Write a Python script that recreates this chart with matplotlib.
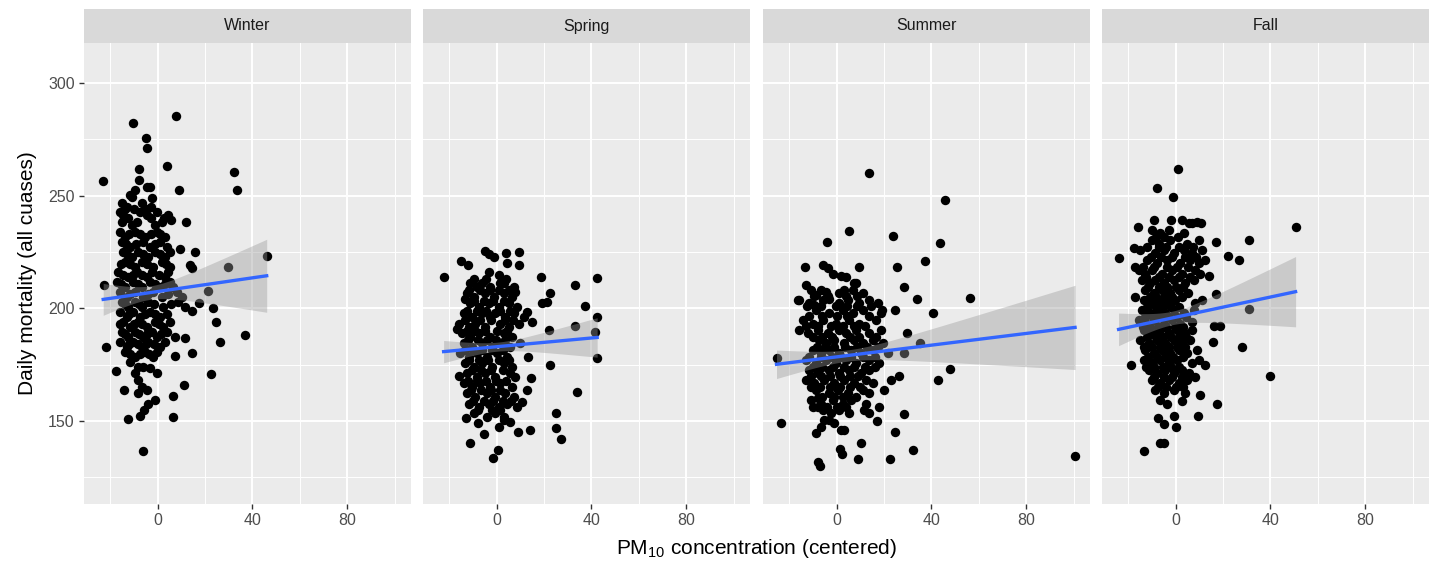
import matplotlib.pyplot as plt
import numpy as np

plt.rcParams['font.family'] = ['Liberation Sans', 'DejaVu Sans']
plt.rcParams['mathtext.fontset'] = 'custom'
plt.rcParams['mathtext.rm'] = 'Liberation Sans'
plt.rcParams['mathtext.it'] = 'Liberation Sans:italic'

seasons = ["Winter", "Spring", "Summer", "Fall"]

# ---- points (PM10 centered, daily deaths) ----
winter_x = [
    -10.3, 7.6, -5.1, -4.4, -7.7, 4.1, -23.0, 32.0, 33.4, 9.0,
    -7.7, 12.0, 5.6, 9.4, 15.8, 13.7, 14.4, 46.0, 29.6, 21.4,
    -22.5, 17.6, 23.5, 24.5, 14.4, 36.9, 26.3, -22.0, 14.6, 7.3,
    11.5, -17.6, 22.5, 11.1, -14.1, 6.3, 6.6, -12.4, -6.1,
    -7.5, -5.6, -3.9, -8.2, -4.6, -1.1, -6.8, -0.4, -3.2, -9.6, -8.2, -6.1,
    -3.2, -4.6, -9.6, -11.0,
    -11.7, -2.5,
    -15.2, -13.1, -6.8, -2.8,
    -15.9, -14.5, -7.5, -4.6, -0.4, 4.5,
    -15.2, -11.0, -8.9, -1.1, 1.7,
    -15.9, -13.8, -9.6, -5.4, -0.4, 3.1,
    -15.2, -11.7, -6.1, -3.2, 1.0, 3.8,
    -14.5, -11.0, -8.2, -3.9, -1.1, 3.1, 5.2,
    -13.8, -9.6, -6.8, -1.8, 1.7, 5.2,
    -16.6, -12.4, -8.9, -4.6, -2.5, 3.1, 4.5,
    -17.3, -13.8, -10.3, -6.8, -3.2, 1.0, 5.2, 6.6,
    -15.9, -13.1, -9.6, -6.1, -1.8, 1.7, 8.0, 10.1,
    -15.2, -12.4, -9.6, -6.8, -3.9, 2.4, 8.7, 11.5,
    -15.9, -13.1, -10.3, -7.5, -3.2, 1.0,
    -14.5, -11.7, -8.2, -4.6, -1.1, 2.4, 5.2,
    -15.2, -12.4, -9.6, -6.1, -2.5, -0.4, 3.8, 7.3,
    -15.9, -13.1, -10.3, -6.8, -3.9, 1.0, 3.1,
    -13.8, -9.6, -5.4, -1.8, -0.4,
    -11.7, -8.2,
    # inner part of the cloud
    -14.0, -10.0, -5.0,
    -12.5, -3.0, 2.5,
    -12.0, -7.5, -3.0, 1.0,
    -13.5, -9.0, -1.0,
    -13.0, -6.0, 1.0,
    -15.5, -11.5, -4.5, 3.5,
    -14.5, -10.5, -6.5, 0.5,
    -15.5, -8.5, -1.0, 3.0,
    -11.5, -4.0, 4.5,
    -14.0, -8.0, -1.5, 5.5,
    -12.0, -5.5, -1.0, 4.0,
    -16.0, -10.0, -6.5, 0.5,
    -14.0, -8.0, -4.5, 1.5,
    -12.0, -8.5, -5.0, -1.5,
    -11.5, -7.5, -3.5,
]
winter_y = [
    282.4, 285.5, 275.7, 271.3, 262.1, 263.3, 256.5, 260.4, 252.5, 252.5,
    257.2, 238.2, 239.2, 226.2, 225.1, 219.2, 217.8, 223.2, 218.2, 207.8,
    210.2, 202.2, 200.0, 194.1, 199.0, 188.0, 184.9, 183.0, 180.0, 178.8,
    187.0, 172.2, 170.9, 166.0, 164.0, 161.2, 151.9, 150.9, 136.8,
    152.4, 154.9, 157.8, 162.3, 163.8, 159.3, 165.2, 171.2, 173.4, 171.2, 168.2, 174.1,
    254.0, 253.7, 252.5, 249.6,
    250.3, 248.8,
    246.6, 245.1, 246.6, 245.1,
    242.9, 241.4, 242.9, 241.4, 242.9, 241.4,
    238.5, 237.0, 238.5, 237.0, 238.5,
    234.0, 231.8, 234.0, 231.8, 234.0, 231.8,
    229.6, 227.4, 229.6, 227.4, 229.6, 227.4,
    225.1, 222.9, 225.1, 222.9, 225.1, 222.9, 225.1,
    220.7, 218.5, 220.7, 218.5, 220.7, 218.5,
    216.3, 214.1, 216.3, 214.1, 216.3, 214.1, 216.3,
    211.8, 209.6, 211.8, 209.6, 211.8, 209.6, 211.8, 209.6,
    207.4, 205.2, 207.4, 205.2, 207.4, 205.2, 207.4, 205.2,
    203.0, 200.7, 203.0, 200.7, 203.0, 200.7, 203.0, 200.7,
    198.5, 196.3, 198.5, 196.3, 198.5, 196.3,
    194.1, 191.9, 194.1, 191.9, 194.1, 191.9, 194.1,
    189.6, 187.4, 189.6, 187.4, 189.6, 187.4, 189.6, 187.4,
    185.2, 183.0, 185.2, 183.0, 185.2, 183.0, 185.2,
    180.8, 178.6, 180.8, 178.6, 180.8,
    176.3, 174.1,
    244.0, 244.0, 244.0,
    240.0, 240.0, 240.0,
    232.9, 232.9, 232.9, 232.9,
    228.5, 228.5, 228.5,
    224.0, 224.0, 224.0,
    219.6, 219.6, 219.6, 219.6,
    215.0, 215.0, 215.0, 215.0,
    210.7, 210.7, 210.7, 210.7,
    206.3, 206.3, 206.3,
    201.8, 201.8, 201.8, 201.8,
    197.4, 197.4, 197.4, 197.4,
    193.0, 193.0, 193.0, 193.0,
    188.5, 188.5, 188.5, 188.5,
    184.0, 184.0, 184.0, 184.0,
    179.7, 179.7, 179.7,
]

spring_x = [
    -22.4, -5.1, -3.4, -1.3, 4.1, 4.4, 9.3, 9.6, -15.1, -12.1,
    18.7, 33.2, 42.4, 22.4, 21.3, 19.2, 37.2, 42.4, 33.0, 22.0,
    41.3, 42.4, 22.5, 33.7, 25.2, 25.2, 27.3, 14.2, 8.9, -11.1,
    -5.5, -1.5, 0.4, -12.8, -8.0, 14.5, 12.8, 10.7, -16.1, 13.1,
    -13.2, -16.8, 14.9, 12.8, 7.9,
    5.8, 3.0, 0.8, -3.4, 0.8, 3.0,
    -11.1, -8.3, -6.2, -2.7, 1.5, 7.2,
    -12.5, -9.7, -4.8, -1.3, 3.0, 6.5,
    -11.1, -7.6, -3.4, 0.8, 5.1, 8.6,
    -13.9, -10.4, -6.2, -2.7, -0.6, 3.7, 7.2, 11.4,
    -16.1, -11.8, -9.0, -4.8, 1.5, 5.1, 9.3,
    -14.6, -11.1, -7.6, -2.7, 3.0, 6.5,
    -13.9, -10.4, -6.2, -2.0, 1.5, 5.8, 10.0,
    -15.4, -11.8, -8.3, -4.1, 0.1, 4.4,
    -13.2, -9.7, -6.2, -2.0, 3.0, 6.5,
    -12.5, -8.3, -4.8, -0.6, 5.8, 7.9,
    -13.9, -10.4, -6.9, -2.7, 1.5, 6.5,
    -12.5, -9.0, -4.1, -0.6, 3.7, 7.2,
    -11.8, -7.6, -3.4, 0.8, 4.4, 8.6,
    -9.7, -4.1, -0.6, 3.0,
    # inner part of the cloud
    -9.7, -4.5, 4.0,
    -11.5, -7.0, -2.8, 1.0, 5.0,
    -9.5, -5.5, -1.5, 3.0,
    -12.5, -8.5, -4.5, 1.5, 5.5,
    -13.5, -7.0, -2.5, 3.5, 7.0,
    -12.5, -9.0, -5.0, 0.0, 4.5,
    -12.0, -8.0, -4.0, -0.5, 3.5,
    -13.5, -10.0, -6.0, -2.0, 2.5,
    -11.5, -7.5, -3.5, 1.0, 5.0,
    -10.5, -6.5, -2.5, 2.5,
    -12.0, -8.5, -4.5, -0.5, 4.0,
    -11.0, -6.5, -2.5, 1.5,
    -10.0, -5.5, -1.5, 2.5, 6.0,
    -8.0, -2.0, 1.5,
]
spring_y = [
    214.0, 225.6, 224.1, 222.9, 224.7, 220.3, 225.1, 219.2, 221.2, 219.2,
    214.0, 210.4, 213.3, 207.0, 203.0, 202.5, 201.0, 196.0, 192.2, 190.4,
    189.6, 178.1, 175.1, 163.0, 153.4, 147.0, 141.9, 146.0, 145.3, 140.1,
    144.2, 133.7, 137.1, 151.2, 149.3, 169.0, 163.8, 158.6, 170.0, 178.6,
    204.0, 190.7, 194.1, 198.5, 207.4,
    149.7, 150.7, 147.5, 216.3, 214.8, 211.1,
    211.1, 209.6, 211.1, 209.6, 211.1, 209.6,
    206.7, 205.2, 206.7, 205.2, 206.7, 205.2,
    202.2, 200.7, 202.2, 200.7, 202.2, 200.7,
    197.8, 196.0, 197.8, 196.0, 197.8, 196.0, 197.8, 196.0,
    193.3, 191.9, 193.3, 191.9, 193.3, 191.9, 193.3,
    188.9, 187.4, 188.9, 187.4, 188.9, 187.4,
    184.5, 183.0, 184.5, 183.0, 184.5, 183.0, 184.5,
    180.0, 178.6, 180.0, 178.6, 180.0, 178.6,
    175.6, 174.1, 175.6, 174.1, 175.6, 174.1,
    171.2, 169.7, 171.2, 169.7, 171.2, 169.7,
    166.7, 165.2, 166.7, 165.2, 166.7, 165.2,
    162.3, 160.8, 162.3, 160.8, 162.3, 160.8,
    157.8, 156.4, 157.8, 156.4, 157.8, 156.4,
    153.4, 151.9, 153.4, 151.9,
    213.0, 213.0, 213.0,
    208.0, 208.0, 208.0, 208.0, 208.0,
    203.5, 203.5, 203.5, 203.5,
    199.0, 199.0, 199.0, 199.0, 199.0,
    194.8, 194.8, 194.8, 194.8, 194.8,
    190.0, 190.0, 190.0, 190.0, 190.0,
    185.8, 185.8, 185.8, 185.8, 185.8,
    181.5, 181.5, 181.5, 181.5, 181.5,
    177.0, 177.0, 177.0, 177.0, 177.0,
    172.5, 172.5, 172.5, 172.5,
    168.0, 168.0, 168.0, 168.0, 168.0,
    163.8, 163.8, 163.8, 163.8,
    159.0, 159.0, 159.0, 159.0, 159.0,
    155.0, 155.0, 155.0,
]

summer_x = [
    13.8, 45.9, 5.4, -4.1, 23.7, 43.4, 37.3, 25.4, 9.6, -13.4,
    8.2, 28.6, 33.9, -16.2, 3.2, 40.6, 24.4, 19.2, 29.6, 35.2,
    28.6, 47.9, 42.7, 26.2, 23.0, 20.1, 18.0, 28.2, 17.0, 24.8,
    32.4, 22.3, 8.9, 10.3, 1.4, 2.1, -8.0, -7.0, -23.5, -25.4,
    100.6, 56.4,
    -5.9, -3.8, -1.7, 1.8, 3.9, -13.0, -10.8, -8.7, -4.5, -3.1,
    -9.4, -8.7, -6.6, -3.1, 1.8, 3.2, -10.1, -8.0,
    7.5,
    -6.6, 1.1, 6.8, 11.0,
    -15.8, -11.5, -5.9, 1.1, 4.6, 9.6, 13.8, 17.3,
    -8.7, -3.1, 2.5, 6.8, 11.0, 18.7,
    -14.4, -10.1, -5.9, -0.3, 5.4, 9.6, 16.6,
    -15.8, -12.3, -8.0, -3.8, 1.1, 3.9, 8.2, 13.8, 18.7,
    -7.3, -4.5, -1.0, 3.2, 7.5, 11.0, 15.2, 19.4,
    -10.1, -6.6, -3.1, 1.1, 6.1, 10.3, 15.2, 21.5,
    -13.0, -8.7, -4.5, -0.3, 3.9, 8.2, 13.8, 18.0,
    -11.5, -8.0, -3.1, 1.1, 5.4, 10.3, 13.8,
    -13.0, -9.4, -5.2, -1.0, 3.2, 7.5, 12.4, 15.2,
    -8.7, -3.1, 0.4, 4.6, 11.0, 13.8,
    -10.8, -6.6, -1.7, 2.5, 6.1, 12.4,
    -5.9, -2.4, 1.1, 5.4, 11.7, 13.8,
    -5.2, -1.0,
    # inner part of the cloud
    -9.5, -3.5, 4.0, 8.5,
    -12.5, -6.5, -0.5, 4.5, 8.5, 14.5,
    -11.5, -6.0, 0.0, 4.5, 13.5,
    -13.0, -8.0, -2.5, 2.5, 7.5, 12.0,
    -10.0, -6.0, -2.0, 5.5, 9.5, 16.5,
    -8.5, -5.0, -1.0, 3.5, 8.5, 13.0, 17.5,
    -11.5, -6.5, -2.0, 2.0, 6.0, 11.0, 16.0,
    -10.0, -6.0, -1.5, 3.0, 7.5, 12.0, 16.0,
    -11.0, -6.5, -3.0, 1.5, 5.5, 9.0,
    -11.0, -7.0, -3.0, 1.5, 5.5, 10.0,
    -6.0, -1.0, 2.5, 8.0,
    -8.0, -4.0, 0.0, 4.0,
]
summer_y = [
    260.2, 248.1, 234.3, 229.3, 232.1, 229.1, 221.2, 218.2, 218.2, 218.2,
    211.1, 209.3, 204.1, 203.7, 208.1, 198.1, 199.3, 199.3, 189.2, 184.5,
    180.0, 172.9, 168.2, 170.0, 168.2, 164.0, 156.4, 153.0, 150.0, 145.0,
    137.1, 133.0, 133.0, 140.1, 137.6, 135.4, 132.0, 130.0, 149.0, 177.8,
    134.4, 204.8,
    219.2, 217.8, 215.5, 214.3, 214.1, 210.4, 208.1, 205.9, 207.4, 204.4,
    201.5, 144.8, 147.5, 150.4, 146.0, 146.0, 156.4, 160.1,
    211.1,
    208.1, 206.7, 208.1, 206.7,
    203.7, 202.2, 203.7, 202.2, 203.7, 202.2, 203.7, 202.2,
    199.3, 197.8, 199.3, 197.8, 199.3, 197.8,
    194.8, 193.3, 194.8, 193.3, 194.8, 193.3, 194.8,
    190.4, 188.9, 190.4, 188.9, 190.4, 188.9, 190.4, 188.9, 190.4,
    185.9, 184.5, 185.9, 184.5, 185.9, 184.5, 185.9, 184.5,
    181.5, 180.0, 181.5, 180.0, 181.5, 180.0, 181.5, 180.0,
    177.1, 175.6, 177.1, 175.6, 177.1, 175.6, 177.1, 175.6,
    172.6, 171.2, 172.6, 171.2, 172.6, 171.2, 172.6,
    168.2, 166.7, 168.2, 166.7, 168.2, 166.7, 168.2, 166.7,
    163.8, 162.3, 163.8, 162.3, 163.8, 162.3,
    159.3, 157.8, 159.3, 157.8, 159.3, 157.8,
    154.9, 153.4, 154.9, 153.4, 154.9, 153.4,
    150.4, 149.0,
    205.4, 205.4, 205.4, 205.4,
    201.0, 201.0, 201.0, 201.0, 201.0, 201.0,
    196.5, 196.5, 196.5, 196.5, 196.5,
    192.0, 192.0, 192.0, 192.0, 192.0, 192.0,
    187.5, 187.5, 187.5, 187.5, 187.5, 187.5,
    183.0, 183.0, 183.0, 183.0, 183.0, 183.0, 183.0,
    178.5, 178.5, 178.5, 178.5, 178.5, 178.5, 178.5,
    174.0, 174.0, 174.0, 174.0, 174.0, 174.0, 174.0,
    169.8, 169.8, 169.8, 169.8, 169.8, 169.8,
    165.3, 165.3, 165.3, 165.3, 165.3, 165.3,
    160.8, 160.8, 160.8, 160.8,
    156.3, 156.3, 156.3, 156.3,
]

fall_x = [
    1.0, -7.9, -1.3, 50.6, 30.8, 17.2, -24.1, 22.1, 26.6, -15.9,
    -9.3, -1.8, 7.0, 9.0, 10.5, 13.9, 5.2, 16.8, 30.8, 16.1,
    18.9, 15.8, 28.0, 39.7, 17.5, 9.4, -18.9, -17.7, -17.0, -17.0,
    12.5, 8.3, 10.4, 2.7, -7.5, -5.1, -0.8, 0.1, -6.5, -5.1,
    -13.2, 6.9,
    2.7, 5.5,
    -10.0, -6.5, -3.0, 3.4,
    -10.0, -7.2, -2.3, 4.8, 9.7,
    -14.9, -8.6, -5.1, -0.8, 3.4, 6.9, 11.1,
    -12.1, -7.9, -3.7, 2.0, 6.2, 9.7, 12.5,
    -15.6, -12.8, -10.0, -5.8, -1.5, 2.7, 8.3, 10.4,
    -14.2, -10.7, -8.6, -5.1, -0.8, 4.1, 7.6,
    -12.8, -9.3, -5.8, -2.3, 1.3,
    -13.5, -10.0, -7.2, -3.7, -0.1, 8.3, 11.1,
    -14.2, -10.7, -7.9, -4.4, -0.8, 3.4, 7.6,
    -15.6, -12.1, -8.6, -5.1, -1.5, 2.0,
    -13.5, -10.0, -6.5, -3.0, 0.6, 4.1, 6.9,
    -14.9, -11.4, -7.9, -4.4, -0.8, 2.7, 6.2,
    -12.8, -9.3, -5.8, -2.3, 1.3, 4.8, 9.0,
    -13.5, -10.0, -6.5, -3.0, 0.6, 6.9, 9.7,
    -11.4, -7.9, -4.4, -0.8, 2.7, 5.5,
    -10.0, -6.5, -3.0, 1.3, 4.8,
    -8.6, -5.1, -0.8, 4.1,
    -6.5, -3.7,
    # inner part of the cloud
    -8.5, -5.0, 1.0,
    -12.0, -7.0, -4.0, 1.5, 7.5,
    -10.5, -6.0, -1.5, 4.0, 8.5,
    -14.0, -9.0, -3.5, 0.5, 5.0,
    -12.5, -7.0, -3.0, 1.5, 6.0,
    -11.5, -7.0, -3.5, 0.0, 3.0,
    -11.0, -8.5, -5.0, -1.5, 2.5,
    -12.0, -8.5, -5.5, -2.0, 1.5,
    -13.0, -9.5, -6.5, -3.0, 0.5, 4.5,
    -14.0, -11.0, -7.5, -4.0, -0.5, 3.0,
    -12.0, -8.5, -5.5, -2.0, 1.5, 4.5,
    -13.5, -10.0, -6.5, -3.0, 0.5, 4.0,
    -11.5, -8.0, -4.5, -1.0, 3.0,
    -12.5, -9.0, -5.5, -2.0, 1.5,
    -9.0, -5.0, -1.5, 2.5,
    -7.5, -4.0, 0.0, 3.0,
]
fall_y = [
    262.1, 253.3, 249.3, 236.2, 230.3, 229.3, 222.2, 223.2, 221.4, 236.2,
    239.2, 239.2, 238.0, 238.5, 238.0, 214.3, 207.0, 206.4, 199.6, 192.2,
    192.2, 185.2, 183.0, 170.0, 157.8, 152.2, 175.1, 226.6, 218.5, 205.2,
    175.1, 169.7, 161.5, 159.0, 151.5, 148.7, 152.2, 147.2, 140.1, 140.1,
    136.8, 194.1,
    239.2, 237.7,
    234.8, 233.3, 234.8, 233.3,
    230.3, 228.8, 230.3, 228.8, 230.3,
    225.9, 224.4, 225.9, 224.4, 225.9, 224.4, 225.9,
    221.4, 220.0, 221.4, 220.0, 221.4, 220.0, 221.4,
    217.0, 215.5, 217.0, 215.5, 217.0, 215.5, 217.0, 215.5,
    212.6, 211.1, 212.6, 211.1, 212.6, 211.1, 212.6,
    208.1, 206.7, 208.1, 206.7, 208.1,
    203.7, 202.2, 203.7, 202.2, 203.7, 202.2, 203.7,
    199.3, 197.8, 199.3, 197.8, 199.3, 197.8, 199.3,
    194.8, 193.3, 194.8, 193.3, 194.8, 193.3,
    190.4, 188.9, 190.4, 188.9, 190.4, 188.9, 190.4,
    185.9, 184.5, 185.9, 184.5, 185.9, 184.5, 185.9,
    181.5, 180.0, 181.5, 180.0, 181.5, 180.0, 181.5,
    177.1, 175.6, 177.1, 175.6, 177.1, 175.6, 177.1,
    172.6, 171.2, 172.6, 171.2, 172.6, 171.2,
    168.2, 166.7, 168.2, 166.7, 168.2,
    163.8, 162.3, 163.8, 162.3,
    159.3, 157.8,
    231.8, 231.8, 231.8,
    227.2, 227.2, 227.2, 227.2, 227.2,
    222.8, 222.8, 222.8, 222.8, 222.8,
    218.3, 218.3, 218.3, 218.3, 218.3,
    213.9, 213.9, 213.9, 213.9, 213.9,
    209.5, 209.5, 209.5, 209.5, 209.5,
    205.0, 205.0, 205.0, 205.0, 205.0,
    200.8, 200.8, 200.8, 200.8, 200.8,
    196.3, 196.3, 196.3, 196.3, 196.3, 196.3,
    191.8, 191.8, 191.8, 191.8, 191.8, 191.8,
    187.4, 187.4, 187.4, 187.4, 187.4, 187.4,
    183.0, 183.0, 183.0, 183.0, 183.0, 183.0,
    178.5, 178.5, 178.5, 178.5, 178.5,
    174.0, 174.0, 174.0, 174.0, 174.0,
    169.5, 169.5, 169.5, 169.5,
    165.0, 165.0, 165.0, 165.0,
]

# lm smooth: intercept, slope, half width of the band
fit_intercept = [207.5, 183.0, 178.5, 196.1]
fit_slope = [0.152, 0.097, 0.130, 0.224]
band_mid = [3.0, 2.0, 2.5, 3.0]
band_right = [16.2, 8.75, 18.7, 15.6]

xs_all = [winter_x, spring_x, summer_x, fall_x]
ys_all = [winter_y, spring_y, summer_y, fall_y]
for a, b in zip(xs_all, ys_all):
    assert len(a) == len(b), (len(a), len(b))

W, H = 1452, 564
fig = plt.figure(figsize=(W / 100, H / 100), dpi=100)

panel_left = [84, 423, 763, 1102]
panel_w = 327
top_px, bot_px = 43, 504

for i, season in enumerate(seasons):
    l = panel_left[i]
    ax = fig.add_axes([l / W, (H - bot_px) / H, panel_w / W, (bot_px - top_px) / H])
    ax.set_facecolor('#EBEBEB')
    ax.set_xlim(-31.1, 106.9)
    ax.set_ylim(113.2, 317.8)
    ax.set_xticks([0, 40, 80])
    ax.set_xticks([-20, 20, 60, 100], minor=True)
    ax.set_yticks([150, 200, 250, 300])
    ax.set_yticks([125, 175, 225, 275], minor=True)
    ax.grid(which='major', color='white', lw=1.4)
    ax.grid(which='minor', color='white', lw=0.7)
    ax.set_axisbelow(True)
    for s in ax.spines.values():
        s.set_visible(False)
    ax.tick_params(which='major', length=3.7, width=1.0, color='#333333',
                   labelcolor='#4D4D4D', labelsize=11.5, pad=3)
    ax.tick_params(which='minor', length=0)
    if i > 0:
        ax.tick_params(axis='y', which='both', left=False, labelleft=False)

    x = np.array(xs_all[i])
    y = np.array(ys_all[i])
    ax.scatter(x, y, s=46, color='black', linewidths=0, zorder=2)

    # regression line + confidence band
    gx = np.linspace(x.min(), x.max(), 100)
    gy = fit_intercept[i] + fit_slope[i] * gx
    xbar = x.mean()
    k = np.sqrt(band_right[i] ** 2 - band_mid[i] ** 2) / (x.max() - xbar)
    hw = np.sqrt(band_mid[i] ** 2 + (k * (gx - xbar)) ** 2)
    ax.fill_between(gx, gy - hw, gy + hw, color='#999999', alpha=0.4, lw=0, zorder=3)
    ax.plot(gx, gy, color='#3366FF', lw=2.4, zorder=4)

    # facet strip
    sax = fig.add_axes([l / W, (H - top_px) / H, panel_w / W, 34 / H])
    sax.set_facecolor('#D9D9D9')
    sax.set_xticks([])
    sax.set_yticks([])
    for s in sax.spines.values():
        s.set_visible(False)
    sax.text(0.5, 0.5, season, ha='center', va='center', fontsize=11.5,
             color='#1A1A1A', transform=sax.transAxes)

fig.text(28 / W, (H - 273.5) / H, "Daily mortality (all cuases)", rotation=90,
         ha='center', va='center', fontsize=15, color='black')
fig.text(757 / W, (H - 549) / H, "PM$_{10}$ concentration (centered)",
         ha='center', va='center', fontsize=15, color='black')

fig.savefig('out.png', dpi=100)
